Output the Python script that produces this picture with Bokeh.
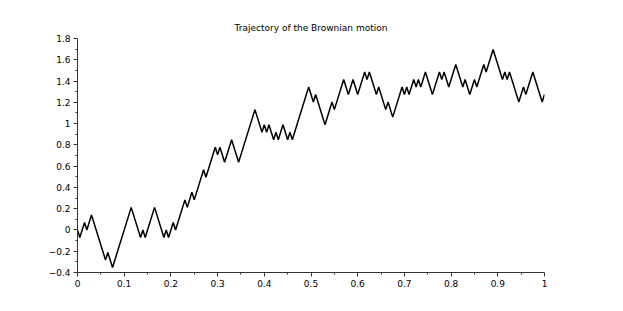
from bokeh.plotting import figure
from bokeh.models import Range1d, FixedTicker, CustomJSTickFormatter
from bokeh.embed import file_html
from bokeh.resources import INLINE

# Trajectory vertices (time, position)
t = [0.0, 0.005, 0.015, 0.02, 0.03, 0.06, 0.065, 0.075, 0.115, 0.135, 0.14, 0.145,
     0.165, 0.185, 0.19, 0.195, 0.205, 0.21, 0.23, 0.235, 0.245, 0.25, 0.27, 0.275,
     0.295, 0.3, 0.305, 0.315, 0.33, 0.345, 0.38, 0.395, 0.4, 0.405, 0.41, 0.42,
     0.425, 0.43, 0.44, 0.45, 0.455, 0.46, 0.495, 0.505, 0.51, 0.53, 0.545, 0.55,
     0.57, 0.58, 0.59, 0.6, 0.615, 0.62, 0.625, 0.64, 0.645, 0.66, 0.665, 0.675,
     0.695, 0.7, 0.705, 0.71, 0.72, 0.725, 0.73, 0.735, 0.745, 0.76, 0.775, 0.78,
     0.785, 0.795, 0.81, 0.825, 0.83, 0.84, 0.85, 0.855, 0.87, 0.875, 0.89, 0.91,
     0.915, 0.92, 0.925, 0.945, 0.955, 0.96, 0.975, 0.995, 1.0]
b = [0.0, -0.0707, 0.0707, 0.0, 0.1414, -0.2828, -0.2121, -0.3536, 0.2121, -0.0707,
     0.0, -0.0707, 0.2121, -0.0707, 0.0, -0.0707, 0.0707, 0.0, 0.2828, 0.2121,
     0.3536, 0.2828, 0.5657, 0.495, 0.7778, 0.7071, 0.7778, 0.6364, 0.8485, 0.6364,
     1.1314, 0.9192, 0.9899, 0.9192, 0.9899, 0.8485, 0.9192, 0.8485, 0.9899, 0.8485,
     0.9192, 0.8485, 1.3435, 1.2021, 1.2728, 0.9899, 1.2021, 1.1314, 1.4142, 1.2728,
     1.4142, 1.2728, 1.4849, 1.4142, 1.4849, 1.2728, 1.3435, 1.1314, 1.2021, 1.0607,
     1.3435, 1.2728, 1.3435, 1.2728, 1.4142, 1.3435, 1.4142, 1.3435, 1.4849, 1.2728,
     1.4849, 1.4142, 1.4849, 1.3435, 1.5556, 1.3435, 1.4142, 1.2728, 1.4142, 1.3435,
     1.5556, 1.4849, 1.6971, 1.4142, 1.4849, 1.4142, 1.4849, 1.2021, 1.3435, 1.2728,
     1.4849, 1.2021, 1.2728]

x_major = [0, 0.1, 0.2, 0.3, 0.4, 0.5, 0.6, 0.7, 0.8, 0.9, 1.0]
x_minor = [0.05, 0.15, 0.25, 0.35, 0.45, 0.55, 0.65, 0.75, 0.85, 0.95]
y_major = [-0.4, -0.2, 0, 0.2, 0.4, 0.6, 0.8, 1.0, 1.2, 1.4, 1.6, 1.8]
y_minor = [-0.3, -0.1, 0.1, 0.3, 0.5, 0.7, 0.9, 1.1, 1.3, 1.5, 1.7]

p = figure(width=607, height=295, output_backend="svg", toolbar_location=None,
           x_range=Range1d(0, 1), y_range=Range1d(-0.4, 1.8),
           min_border_left=77, min_border_right=63, min_border_top=38, min_border_bottom=23,
           title="Trajectory of the Brownian motion")
p.title.align = "center"
p.title.text_font = "DejaVu Sans"
p.title.text_font_size = "9px"
p.title.text_font_style = "normal"
p.title.text_color = "black"
p.title.standoff = 11
p.outline_line_color = None
p.xgrid.visible = False
p.ygrid.visible = False
p.background_fill_color = "white"
p.border_fill_color = "white"

fmt = CustomJSTickFormatter(
    code="var s = String(Math.round(tick*10)/10); return s.replace('-', '\u2212');")
p.xaxis.ticker = FixedTicker(ticks=x_major, minor_ticks=x_minor)
p.yaxis.ticker = FixedTicker(ticks=y_major, minor_ticks=y_minor)
for ax in (p.xaxis, p.yaxis):
    ax.formatter = fmt
    ax.major_label_text_font = "DejaVu Sans"
    ax.major_label_text_font_size = "9px"
    ax.major_label_text_color = "black"
    ax.axis_line_color = "#333333"
    ax.major_tick_line_color = "#333333"
    ax.minor_tick_line_color = "#333333"
    ax.major_tick_out = 4
    ax.major_tick_in = 0
    ax.minor_tick_out = 2
    ax.minor_tick_in = 0
    ax.major_label_standoff = 3

p.line(t, b, line_color="black", line_width=1.5)

open("out.html", "w").write(file_html(p, INLINE))
